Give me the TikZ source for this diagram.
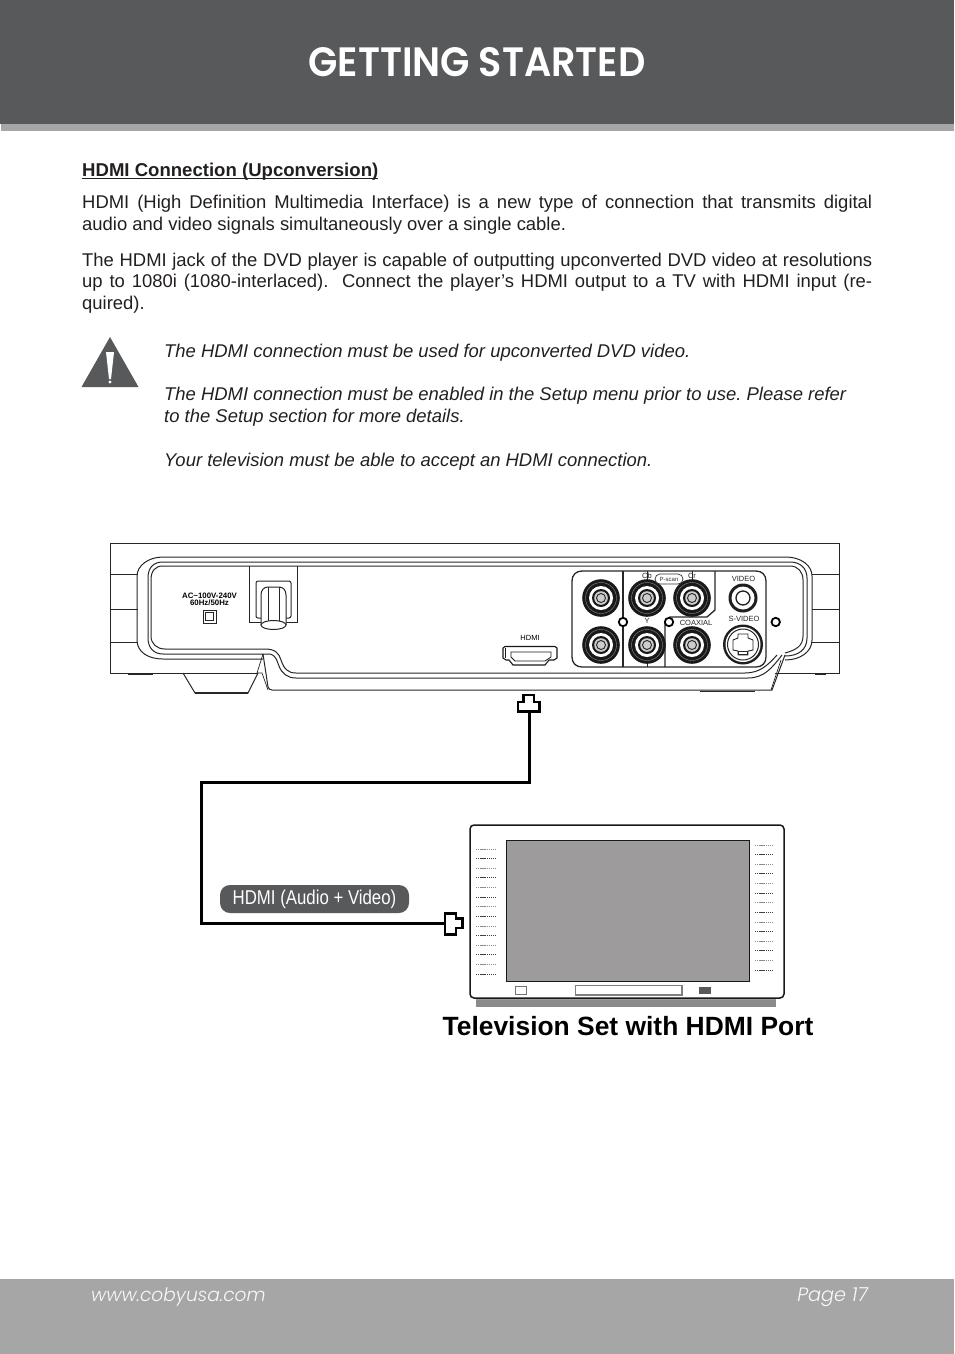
\documentclass[tikz,border=0pt]{standalone}
\usepackage{fontspec}
\setmainfont{Liberation Sans}
\newfontfamily\titlefont[FakeStretch=0.93]{Poppins SemiBold}
\newfontfamily\footfont{Poppins Light Italic}
\newfontfamily\narrowfont[FakeStretch=0.84]{Liberation Sans}
\usetikzlibrary{positioning, shapes.geometric, shapes.misc}
\definecolor{slate}{HTML}{58595b}
\definecolor{band}{HTML}{a7a6a6}
\definecolor{screen}{HTML}{9d9b9b}
\definecolor{stand}{HTML}{8a8a8a}
\definecolor{ink}{HTML}{231f20}
\newcommand{\tightspaces}{\spaceskip=5.1pt plus 12pt minus 3pt\relax}
\tikzset{
  bodytext/.style={inner sep=0pt, text width=790pt, align=justify, anchor=north west, text=ink, font=\fontsize{18.45}{21.7}\selectfont\frenchspacing},
  notetext/.style={inner sep=0pt, anchor=west, text=ink, font=\fontsize{18.45}{21.7}\selectfont\itshape\frenchspacing},
  tinytext/.style={inner sep=0pt, font=\fontsize{7.5}{7.5}\selectfont, text=black!85},
  cable/.style={line width=3pt, black, line join=miter},
  plug/.style={line width=2.6pt, black, fill=white, line join=miter},
  outline/.style={line width=1pt, black!85},
  fineline/.style={line width=0.7pt, black!85},
}
\begin{document}
\begin{tikzpicture}[x=1pt, y=-1pt, line cap=butt]
  \useasboundingbox (0,0) rectangle (954,1354);

  % header and footer bands
  \fill[slate] (0,0) rectangle (954,124);
  \fill[band] (1,124) rectangle (954,131);
  \fill[band] (0,1279) rectangle (954,1354);
  \node[text=white, inner sep=0pt, font=\titlefont\fontsize{41}{41}\selectfont] (title) at (477,62) {GETTING STARTED};
  \node[text=white!92!band, inner sep=0pt, anchor=west, font=\footfont\fontsize{18.6}{18}\selectfont] (web) at (91,1297) {www.cobyusa.com};
  \node[text=white!92!band, inner sep=0pt, anchor=east, font=\footfont\fontsize{19.3}{18}\selectfont] (page) at (868,1297) {Page 17};

  % text block
  \node[inner sep=0pt, anchor=base west, text=ink, font=\fontsize{18.57}{20}\selectfont\bfseries] (heading) at (82,176.500) {\underline{\smash{HDMI Connection (Upconversion)}}};
  \node[bodytext] (para1) at (82,195) {\tightspaces HDMI (High Definition Multimedia Interface) is a new type of connection that transmits digital\linebreak audio and video signals simultaneously over a single cable.};
  \node[bodytext] (para2) at (82,252.500) {\tightspaces The HDMI jack of the DVD player is capable of outputting upconverted DVD video at resolutions\linebreak up to 1080i (1080-interlaced).\ \ Connect the player’s HDMI output to a TV with HDMI input (re-\linebreak quired).};
  \node[notetext] (note1) at (164,353) {The HDMI connection must be used for upconverted DVD video.};
  \node[notetext] (note2) at (164,396) {The HDMI connection must be enabled in the Setup menu prior to use. Please refer};
  \node[notetext] (note3) at (164,418) {to the Setup section for more details.};
  \node[notetext] (note4) at (164,462) {Your television must be able to accept an HDMI connection.};

  % warning sign
  \fill[slate] (110,337) -- (138.500,387) -- (81.500,387) -- cycle;
  \fill[white] (106,352) -- (114,352) -- (111,379) -- (109,379) -- cycle;
  \fill[white] (110,382) circle (1.7pt);

  % player body
  \draw[outline] (110,543) -- (839,543) -- (839,673) -- (775,673);
  \draw[outline] (110,543) -- (110,673) -- (258,673);
  \foreach \ly in {574,609,642} {
    \draw[fineline] (110,\ly) -- (138,\ly);
    \draw[fineline] (812,\ly) -- (839,\ly);
  }
  \draw[outline] (163,557) -- (785,557) .. controls (802,557) and (812,566) .. (812,576) -- (812,640) .. controls (812,652) and (800,660) .. (785,660);
  \draw[outline] (163,557) .. controls (148,557) and (137,566) .. (137,576) -- (137,640) .. controls (137,652) and (148,659) .. (163,659) -- (263,659);
  \draw[outline] (163,562) -- (790,562) .. controls (800,562) and (807,568) .. (807,578) -- (807,638) .. controls (807,650) and (798,656) .. (785,656);
  \draw[outline] (163,566) -- (790,566) .. controls (798,566) and (803,572) .. (803,580) -- (803,636) .. controls (803,646) and (796,650) .. (785,653);
  \draw[outline] (163,562) .. controls (153,562) and (148,568) .. (148,578) -- (148,638) .. controls (148,648) and (154,654) .. (163,654) -- (262,654);
  \draw[outline] (163,566) .. controls (155,566) and (151,571) .. (151,580) -- (151,636) .. controls (151,644) and (157,649) .. (165,649) -- (265,649) .. controls (275,649) and (279,653) .. (281,660) .. controls (284,669) and (288,673) .. (296,673) -- (745,673) .. controls (760,673) and (768,665) .. (777,655);
  \draw[outline] (262,654) -- (270,654) .. controls (277,656) and (277,662) .. (279,666) .. controls (282,674) and (288,678) .. (296,678) -- (748,678) .. controls (764,678) and (772,668) .. (782,655);
  \draw[outline] (263,654) -- (268,687) .. controls (269,689) and (270,690) .. (272,690) -- (772,690) -- (785,655);
  \draw[fineline] (263,654) -- (257,673) -- (262,673) -- (268,690);
  \draw[fineline] (771,690) -- (781,660);
  \draw[outline] (258,673) -- (248,693) -- (195,693) -- (183,673);
  \draw[line width=1.6pt, black!85] (195,693) -- (248,693);
  \draw[line width=1.5pt, black!85] (128,674) -- (153,674);
  \draw[line width=1.8pt, black!85] (700,691.5) -- (755,691.5);
  \draw[line width=1.5pt, black!85] (815,674) -- (826,674);

  % power label and socket
  \node[inner sep=0pt, font=\fontsize{7.85}{7.85}\selectfont\bfseries] (aclabel) at (209.500,596) {AC\textasciitilde 100V-240V};
  \node[inner sep=0pt, font=\fontsize{7.85}{7.85}\selectfont\bfseries, below=1pt of aclabel] (hzlabel) {60Hz/50Hz};
  \draw[outline] (203,610) rectangle (216,623);
  \draw[outline] (205.5,612.5) rectangle (213.5,620.5);

  % power cord
  \draw[outline] (249,566) -- (249,622) -- (297,622) -- (297,566);
  \draw[outline] (261,618) -- (258,618) .. controls (256.500,618) and (256,617) .. (256,616) -- (256,583) .. controls (256,582) and (257,581) .. (258,581) -- (289,581) .. controls (290,581) and (291,582) .. (291,583) -- (291,616) .. controls (291,617) and (290,618) .. (289,618) -- (286,618);
  \draw[outline, fill=white] (261,625) -- (261,595) .. controls (261,590) and (264,587) .. (268,587) -- (279,587) .. controls (283,587) and (286,590) .. (286,595) -- (286,625);
  \draw[outline, fill=white] (273.500,625) ellipse (12.500pt and 4.500pt);
  \draw[fineline] (268,587) -- (268,621);
  \draw[fineline] (279,587) -- (279,621);

  % jack panel
  \draw[outline, line width=1.3pt] (582,571) -- (756,571) .. controls (762,571) and (766,575) .. (766,581) -- (766,657) .. controls (766,663) and (762,667) .. (756,667) -- (582,667) .. controls (576,667) and (572,663) .. (572,657) -- (572,581) .. controls (572,575) and (576,571) .. (582,571);
  \draw[outline, line width=1.3pt] (623,571) -- (623,667);
  \draw[outline, line width=1.3pt] (715,571) -- (715,610) -- (707,617) -- (670,617) -- (665,622) -- (665,667);
  \draw[fineline] (647,571) -- (647,582);
  \draw[fineline] (692,571) -- (692,582);
  \draw[outline] (647,660) -- (647,667);
  \foreach \jx/\jy in {601/598, 647/598, 692/598, 601/645, 647/645, 692/645} {
    \fill[black!90] (\jx,\jy) circle (18.800pt);
    \draw[white!55!black, line width=0.4pt] (\jx,\jy) circle (15.500pt);
    \fill[white] (\jx,\jy) circle (12pt);
    \fill[black!90] (\jx,\jy) circle (9pt);
    \fill[white!80!black] (\jx,\jy) circle (6.800pt);
    \draw[black!85, line width=0.9pt] (\jx,\jy) circle (4.500pt);
  }
  \fill[black!88] (743,598) circle (14.500pt);
  \fill[white] (743,598) circle (11.500pt);
  \draw[black!88, line width=1.3pt] (743,598) circle (7pt);
  \fill[black!88] (743,644.500) circle (20pt);
  \fill[white] (743,644.500) circle (17.500pt);
  \draw[black!85, line width=1pt] (743,644.500) circle (15.500pt);
  \draw[black!85, line width=0.9pt, fill=white] (738,634) -- (748,634) -- (748,638) -- (753,640) -- (753,650) -- (748,651) -- (748,655) -- (738,655) -- (738,651) -- (733,650) -- (733,640) -- (738,638) -- cycle;
  \draw[black!85, line width=0.9pt] (738.500,651) rectangle (747.500,654.500);
  \foreach \sx in {623,669,775.700} {
    \draw[black, line width=1.8pt, fill=white] (\sx,622) circle (4.200pt);
  }
  \node[tinytext] (cblabel) at (647,576) {Cb};
  \node[tinytext] (crlabel) at (692,576) {Cr};
  \node[draw=black!80, line width=0.7pt, fill=white, rounded rectangle, minimum width=28pt, minimum height=10pt, inner sep=0pt, font=\fontsize{6}{6}\selectfont, text=black!80] (pscan) at (669,579) {P-scan};
  \node[tinytext, fill=white, inner sep=0.5pt] (ylabel) at (647,621) {Y};
  \node[tinytext] (coaxlabel) at (696,623) {COAXIAL};
  \node[tinytext] (videolabel) at (743.500,579) {VIDEO};
  \node[tinytext] (svideolabel) at (744,619) {S-VIDEO};

  % hdmi jack
  \node[inner sep=0pt, font=\fontsize{7.500}{7.500}\selectfont] (hdmilabel) at (530,638) {HDMI};
  \draw[line width=1.1pt, black!90] (505,646.500) -- (555,646.500) -- (557,648) -- (557,658) -- (554,660) -- (549,660) -- (545,665) -- (513,665) -- (509,660) -- (506,660) -- (503,658) -- (503,648) -- cycle;
  \draw[line width=0.8pt, black!90] (511,652) -- (551,652) -- (551,657) -- (545,661) -- (515,661) -- (511,657) -- cycle;
  \draw[line width=1.6pt, black!90] (505.500,648) -- (505.500,658);

  % television
  \fill[stand] (476,998) rectangle (776,1007);
  \draw[line width=1.5pt, black!90, fill=white, rounded corners=4pt] (470,825) rectangle (784,998);
  \fill[screen] (476,998.800) rectangle (776,1000);
  \draw[line width=1pt, black!90, fill=screen] (506,840) rectangle (749,981);
  \draw[line width=1pt, black!55] (515.500,986.500) rectangle (526,994);
  \draw[line width=1.4pt, black!50] (575.500,985.500) rectangle (682,995);
  \fill[slate] (699,987) rectangle (711,994);
  \foreach \n in {0,...,13} {
    \pgfmathsetmacro{\dy}{\n*9.62}
    \pgfmathsetmacro{\dk}{ifthenelse(mod(\n,2)==0,45,75)}
    \draw[black!\dk, line width=0.9pt, dash pattern=on 1.3pt off 0.8pt] (476,849+\dy) -- (495,849+\dy);
    \draw[black!\dk, line width=0.9pt, dash pattern=on 1.3pt off 0.8pt] (755,845+\dy) -- (773,845+\dy);
  }
  \node[inner sep=0pt, font=\fontsize{26.4}{27}\selectfont\bfseries] (tvcaption) at (628,1026) {Television Set with HDMI Port};

  % hdmi cable
  \coordinate (plugtop) at (529,712);
  \coordinate (bend) at (201,782);
  \coordinate (plugtv) at (445,923);
  \draw[cable] (plugtop) |- (bend) |- (plugtv);
  \draw[plug] (523.500,702) -- (523.500,695) -- (534,695) -- (534,702) -- (539.500,702) -- (539.500,711.500) -- (518,711.500) -- (518,702) -- cycle;
  \draw[plug] (445,913.500) -- (456,913.500) -- (456,918.500) -- (462.500,918.500) -- (462.500,928) -- (456,928) -- (456,934.500) -- (445,934.500) -- cycle;
  \node[fill=slate, text=white, rounded corners=10pt, minimum width=189pt, minimum height=28pt, inner sep=0pt, font=\narrowfont\fontsize{20}{20}\selectfont] (cablelabel) at (314.500,899) {HDMI (Audio + Video)};
\end{tikzpicture}
\end{document}
